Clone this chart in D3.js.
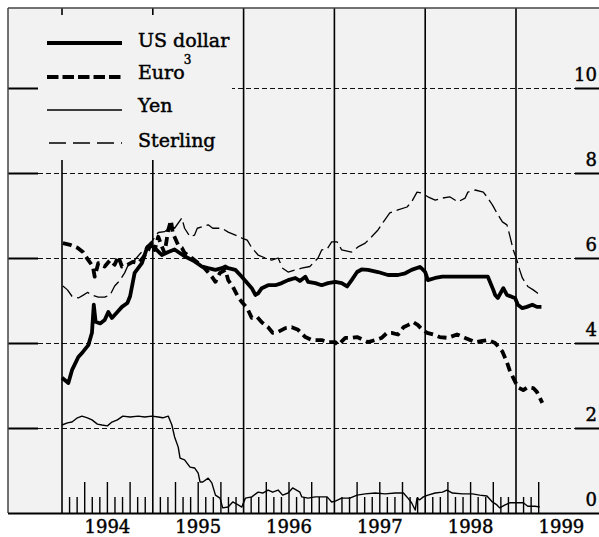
<!DOCTYPE html>
<html><head><meta charset="utf-8">
<script src="https://cdn.jsdelivr.net/npm/d3@7"></script>
<style>body{margin:0;background:#fff}svg{display:block}text{font-family:"DejaVu Serif",serif;fill:#000;stroke:#000;stroke-width:0.45px}</style>
</head><body><svg id="c" width="599" height="537"></svg>
<script>
// ---- data (decimal years, percent) ----
const usDollarT = [1994.00,1994.07,1994.11,1994.18,1994.23,1994.29,1994.33,1994.35,1994.37,1994.42,1994.47,1994.51,1994.55,1994.61,1994.66,1994.72,1994.75,1994.80,1994.88,1994.94,1994.97,1995.02,1995.10,1995.17,1995.24,1995.35,1995.46,1995.54,1995.61,1995.69,1995.76,1995.80,1995.83,1995.91,1995.98,1996.04,1996.09,1996.13,1996.16,1996.20,1996.27,1996.35,1996.42,1996.49,1996.57,1996.62,1996.68,1996.71,1996.79,1996.86,1996.93,1997.01,1997.08,1997.14,1997.19,1997.25,1997.30,1997.37,1997.48,1997.59,1997.70,1997.78,1997.85,1997.94,1997.96,1998.00,1998.03,1998.11,1998.19,1998.44,1998.69,1998.75,1998.77,1998.80,1998.86,1998.90,1998.96,1998.99,1999.02,1999.07,1999.12,1999.18,1999.23,1999.28];
const usDollarV = [3.18,3.06,3.36,3.67,3.79,3.95,4.24,4.90,4.50,4.46,4.54,4.73,4.59,4.73,4.85,4.94,5.10,5.65,5.88,6.26,6.31,6.24,6.07,6.14,6.20,6.04,5.92,5.80,5.76,5.72,5.76,5.80,5.76,5.72,5.56,5.41,5.29,5.13,5.17,5.29,5.36,5.36,5.41,5.48,5.53,5.46,5.56,5.44,5.41,5.36,5.41,5.44,5.41,5.33,5.48,5.67,5.73,5.72,5.67,5.60,5.60,5.64,5.72,5.79,5.76,5.67,5.48,5.53,5.56,5.56,5.56,5.25,5.13,5.06,5.29,5.13,5.08,5.06,4.90,4.82,4.85,4.90,4.85,4.85];

const euroT = [1994.01,1994.09,1994.17,1994.23,1994.29,1994.34,1994.36,1994.40,1994.47,1994.53,1994.58,1994.62,1994.66,1994.72,1994.78,1994.84,1994.89,1994.95,1994.99,1995.02,1995.06,1995.10,1995.13,1995.17,1995.20,1995.22,1995.28,1995.32,1995.35,1995.43,1995.50,1995.57,1995.65,1995.69,1995.74,1995.80,1995.83,1995.88,1995.94,1995.99,1996.04,1996.09,1996.15,1996.20,1996.27,1996.32,1996.38,1996.46,1996.53,1996.60,1996.68,1996.75,1996.86,1996.93,1997.01,1997.04,1997.12,1997.19,1997.25,1997.30,1997.37,1997.45,1997.52,1997.58,1997.63,1997.70,1997.76,1997.81,1997.87,1997.92,1997.96,1998.02,1998.09,1998.16,1998.25,1998.35,1998.44,1998.55,1998.63,1998.69,1998.77,1998.85,1998.90,1998.93,1998.97,1999.02,1999.08,1999.13,1999.19,1999.23,1999.29];
const euroV = [6.35,6.31,6.24,6.14,5.95,5.80,5.56,5.88,5.80,5.95,5.84,6.04,5.80,5.84,5.91,5.88,6.00,6.19,6.38,6.19,6.50,6.27,6.12,6.66,6.88,6.59,6.30,6.24,6.12,6.00,5.88,5.76,5.56,5.44,5.65,5.72,5.48,5.33,5.08,4.94,4.82,4.59,4.61,4.49,4.37,4.24,4.26,4.35,4.37,4.31,4.14,4.07,4.07,4.02,4.02,3.95,4.12,4.12,4.14,4.09,4.02,4.07,4.12,4.24,4.24,4.20,4.37,4.42,4.49,4.42,4.33,4.24,4.20,4.14,4.12,4.20,4.12,4.02,4.05,4.07,4.00,3.80,3.55,3.36,3.18,2.96,2.89,2.96,2.94,2.85,2.59];

const yenT = [1994.00,1994.06,1994.11,1994.17,1994.22,1994.28,1994.33,1994.39,1994.44,1994.50,1994.55,1994.61,1994.67,1994.75,1994.84,1994.91,1994.99,1995.06,1995.11,1995.17,1995.21,1995.24,1995.28,1995.30,1995.35,1995.41,1995.46,1995.50,1995.52,1995.55,1995.61,1995.65,1995.69,1995.74,1995.77,1995.83,1995.88,1995.94,1995.98,1996.02,1996.09,1996.16,1996.21,1996.27,1996.32,1996.38,1996.43,1996.49,1996.54,1996.62,1996.64,1996.71,1996.79,1996.86,1996.92,1996.97,1997.01,1997.08,1997.17,1997.25,1997.34,1997.45,1997.56,1997.67,1997.76,1997.81,1997.85,1997.89,1997.91,1997.94,1997.98,1998.03,1998.11,1998.19,1998.24,1998.30,1998.41,1998.52,1998.60,1998.68,1998.74,1998.79,1998.82,1998.88,1998.93,1999.01,1999.08,1999.13,1999.21,1999.26];
const yenV = [2.07,2.12,2.14,2.24,2.28,2.24,2.19,2.09,2.07,2.05,2.14,2.19,2.28,2.26,2.28,2.26,2.28,2.26,2.24,2.28,2.07,1.79,1.55,1.29,1.25,1.08,1.06,0.94,0.73,0.73,0.82,0.71,0.42,0.35,0.12,0.14,0.26,0.19,0.14,0.35,0.38,0.49,0.47,0.54,0.49,0.54,0.42,0.47,0.59,0.49,0.38,0.35,0.38,0.38,0.38,0.26,0.28,0.35,0.35,0.42,0.45,0.47,0.45,0.47,0.47,0.35,0.24,0.07,0.35,0.31,0.38,0.42,0.47,0.49,0.54,0.47,0.45,0.45,0.42,0.40,0.26,0.19,0.12,0.19,0.24,0.24,0.24,0.16,0.16,0.14];

const sterlingT = [1994.01,1994.06,1994.11,1994.18,1994.23,1994.28,1994.33,1994.40,1994.47,1994.53,1994.58,1994.64,1994.69,1994.73,1994.77,1994.86,1994.95,1995.00,1995.06,1995.13,1995.21,1995.24,1995.32,1995.35,1995.41,1995.46,1995.49,1995.54,1995.61,1995.66,1995.76,1995.83,1995.91,1995.98,1996.04,1996.09,1996.16,1996.24,1996.31,1996.38,1996.43,1996.49,1996.57,1996.64,1996.73,1996.82,1996.86,1996.92,1996.97,1997.03,1997.08,1997.19,1997.26,1997.34,1997.41,1997.48,1997.54,1997.61,1997.70,1997.80,1997.85,1997.91,1997.96,1998.03,1998.11,1998.19,1998.27,1998.36,1998.44,1998.47,1998.55,1998.64,1998.68,1998.74,1998.79,1998.85,1998.90,1998.93,1998.97,1999.01,1999.04,1999.07,1999.13,1999.19,1999.24,1999.28];
const sterlingV = [5.34,5.25,5.10,5.06,5.12,5.19,5.13,5.08,5.08,5.13,5.34,5.48,5.65,5.84,5.88,6.10,6.30,6.42,6.60,6.62,6.75,6.70,6.94,6.70,6.50,6.54,6.70,6.73,6.78,6.70,6.70,6.61,6.54,6.47,6.42,6.24,6.07,6.00,5.95,6.00,5.76,5.67,5.72,5.76,5.80,6.00,6.19,6.21,6.38,6.38,6.19,6.14,6.26,6.35,6.50,6.66,6.85,7.06,7.13,7.20,7.32,7.55,7.53,7.44,7.36,7.41,7.44,7.32,7.41,7.55,7.60,7.55,7.44,7.25,7.06,6.85,6.78,6.54,6.19,5.95,5.72,5.53,5.33,5.25,5.17,5.17];

const yTicks = [0, 2, 4, 6, 8, 10];
const yearLines = [1994, 1995, 1996, 1997, 1998, 1999];
const yearLabels = ["1994", "1995", "1996", "1997", "1998", "1999"];
const seriesNames = ["US dollar", "Euro", "Yen", "Sterling"];

// ---- drawing ----
const svg = d3.select("#c");
const W = 599, L = 8, T = 8, B = 513;
const x = d3.scaleLinear().domain([1994, 1999]).range([62, 516]);
const y = d3.scaleLinear().domain([0, 10]).range([B, 88]);

svg.append("rect").attr("x", L).attr("y", T).attr("width", W - L).attr("height", B - T).attr("fill", "#f2f2f2");

// horizontal gridlines
const g = svg.append("g");
yTicks.forEach(v => {
  if (v > 0) {
    g.append("line").attr("x1", 38).attr("x2", 575).attr("y1", y(v) + 0.5).attr("y2", y(v) + 0.5)
      .attr("stroke", "#111").attr("stroke-width", 1).attr("stroke-dasharray", "5,3");
    g.append("line").attr("x1", L).attr("x2", 38).attr("y1", y(v) + 0.5).attr("y2", y(v) + 0.5).attr("stroke", "#000").attr("stroke-width", 2);
    g.append("line").attr("x1", 575).attr("x2", W).attr("y1", y(v) + 0.5).attr("y2", y(v) + 0.5).attr("stroke", "#000").attr("stroke-width", 2);
  }
  g.append("text").attr("x", 597).attr("y", y(v) - 7).attr("text-anchor", "end").attr("font-size", 18).text(v);
});

// year lines
yearLines.forEach(yr => {
  g.append("line").attr("x1", x(yr)).attr("x2", x(yr)).attr("y1", T).attr("y2", B).attr("stroke", "#000").attr("stroke-width", 1.6);
});
// month ticks
d3.range(1, 64).filter(m => m % 12 !== 0).forEach(m => {
  const xx = x(1994 + m / 12);
  g.append("line").attr("x1", xx).attr("x2", xx).attr("y1", B).attr("y2", B - (m % 3 === 0 ? 31 : 16))
    .attr("stroke", "#000").attr("stroke-width", 1.4);
});
// year labels
yearLabels.forEach((lab, i) => {
  svg.append("text").attr("x", x(1994 + i + 0.5)).attr("y", 533).attr("text-anchor", "middle").attr("font-size", 18).text(lab);
});

// borders
svg.append("line").attr("x1", L).attr("x2", W).attr("y1", T).attr("y2", T).attr("stroke", "#444").attr("stroke-width", 1.5);
svg.append("line").attr("x1", L).attr("x2", L).attr("y1", T).attr("y2", B).attr("stroke", "#444").attr("stroke-width", 1.5);
svg.append("line").attr("x1", L).attr("x2", W).attr("y1", B + 0.5).attr("y2", B + 0.5).attr("stroke", "#000").attr("stroke-width", 2);

const styles = [
  {w: 3.8, dash: null},
  {w: 3.8, dash: "9,5"},
  {w: 1.4, dash: null},
  {w: 1.3, dash: "14,5"}
];
const series = [
  {t: usDollarT, v: usDollarV},
  {t: euroT, v: euroV},
  {t: yenT, v: yenV},
  {t: sterlingT, v: sterlingV}
];
const line = d3.line().x(d => x(d[0])).y(d => y(d[1]));
[2, 3, 1, 0].forEach(i => {
  const s = series[i];
  svg.append("path").datum(s.t.map((t, j) => [t, s.v[j]]))
    .attr("d", line).attr("fill", "none").attr("stroke", "#000")
    .attr("stroke-width", styles[i].w).attr("stroke-linejoin", "round")
    .attr("stroke-dasharray", styles[i].dash);
});

// legend
svg.append("rect").attr("x", 38).attr("y", 15).attr("width", 194).attr("height", 145).attr("fill", "#f2f2f2");
const lineY = [43, 77, 110, 143];
const textY = [47, 79, 112, 147];
seriesNames.forEach((n, i) => {
  svg.append("line").attr("x1", 47).attr("x2", 122).attr("y1", lineY[i]).attr("y2", lineY[i])
    .attr("stroke", "#000").attr("stroke-width", i < 2 ? 4 : 1.5)
    .attr("stroke-dasharray", i === 1 ? "11.5,4" : i === 3 ? "17,7" : null)
    .attr("stroke-dashoffset", i === 3 ? -2 : 0);
  const t = svg.append("text").attr("x", 138).attr("y", textY[i]).attr("font-size", 19).text(n);
  if (i === 1) t.append("tspan").attr("dx", -1).attr("dy", -15).attr("font-size", 12).text("3");
});
</script></body></html>
